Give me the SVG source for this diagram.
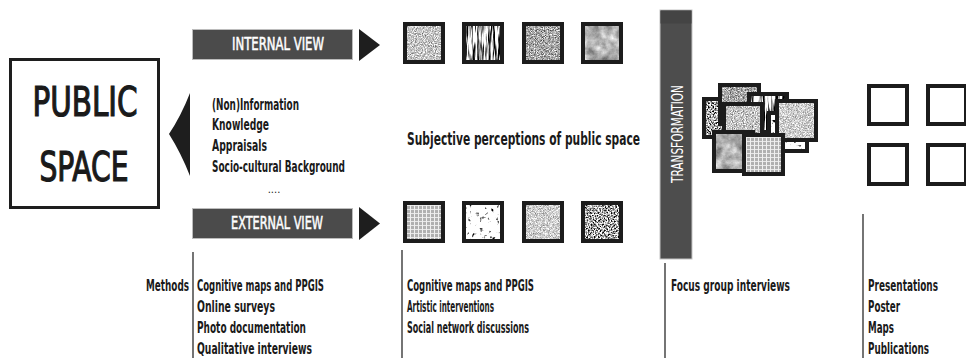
<svg xmlns="http://www.w3.org/2000/svg" width="966" height="358" viewBox="0 0 966 358">
  <style>
    text { font-family: "Liberation Sans Narrow", "DejaVu Sans Condensed", "Liberation Sans", sans-serif; fill: #1a1a1a; }
    .big { font-size: 40px; stroke: #1a1a1a; stroke-width: 1.2; }
    .lbl { font-size: 15px; font-weight: bold; }
    .bar-txt { font-size: 17px; fill: #ffffff; stroke: #ffffff; stroke-width: 0.5; }
    .bar { fill: #4b4b4b; stroke: #bcbcbc; stroke-width: 1; }
    .head { fill: #1e1e1e; }
    .frame { fill: none; stroke: #1c1c1c; stroke-width: 4; }
    .out { fill: #ffffff; stroke: #1c1c1c; stroke-width: 4; }
    .tex { fill: #999999; }
    .rule { stroke: #2a2a2a; stroke-width: 1.3; }
  </style>
  <defs>
    <!-- fine light gravel -->
    <filter id="tx-gravel" x="0" y="0" width="1" height="1" color-interpolation-filters="sRGB">
      <feTurbulence type="fractalNoise" baseFrequency="0.9" numOctaves="2" seed="3"/>
      <feColorMatrix type="matrix" values="1.1 0 0 0 0.22  1.1 0 0 0 0.22  1.1 0 0 0 0.22  0 0 0 0 1"/>
    </filter>
    <!-- vertical bark streaks -->
    <filter id="tx-bark" x="0" y="0" width="1" height="1" color-interpolation-filters="sRGB">
      <feTurbulence type="fractalNoise" baseFrequency="0.45 0.035" numOctaves="3" seed="7"/>
      <feColorMatrix type="matrix" values="4.5 0 0 0 -1.6  4.5 0 0 0 -1.6  4.5 0 0 0 -1.6  0 0 0 0 1"/>
    </filter>
    <!-- mid grey stone grain -->
    <filter id="tx-stone" x="0" y="0" width="1" height="1" color-interpolation-filters="sRGB">
      <feTurbulence type="fractalNoise" baseFrequency="0.85" numOctaves="2" seed="11"/>
      <feColorMatrix type="matrix" values="1.3 0 0 0 0.0  1.3 0 0 0 0.0  1.3 0 0 0 0.0  0 0 0 0 1"/>
    </filter>
    <!-- soft cloudy concrete -->
    <filter id="tx-cloud" x="0" y="0" width="1" height="1" color-interpolation-filters="sRGB">
      <feTurbulence type="fractalNoise" baseFrequency="0.09" numOctaves="6" seed="5"/>
      <feColorMatrix type="matrix" values="0.8 0 0 0 0.3  0.8 0 0 0 0.3  0.8 0 0 0 0.3  0 0 0 0 1"/>
    </filter>
    <!-- white ground with dark blots -->
    <filter id="tx-blots" x="0" y="0" width="1" height="1" color-interpolation-filters="sRGB">
      <feTurbulence type="fractalNoise" baseFrequency="0.25" numOctaves="3" seed="9"/>
      <feColorMatrix type="matrix" values="5 0 0 0 -0.9  5 0 0 0 -0.9  5 0 0 0 -0.9  0 0 0 0 1"/>
    </filter>
    <!-- very fine light grain -->
    <filter id="tx-fine" x="0" y="0" width="1" height="1" color-interpolation-filters="sRGB">
      <feTurbulence type="fractalNoise" baseFrequency="1.4" numOctaves="1" seed="2"/>
      <feColorMatrix type="matrix" values="1.0 0 0 0 0.3  1.0 0 0 0 0.3  1.0 0 0 0 0.3  0 0 0 0 1"/>
    </filter>
    <!-- dark high-contrast speckle -->
    <filter id="tx-dark" x="0" y="0" width="1" height="1" color-interpolation-filters="sRGB">
      <feTurbulence type="fractalNoise" baseFrequency="0.7" numOctaves="2" seed="4"/>
      <feColorMatrix type="matrix" values="3.5 0 0 0 -1.2  3.5 0 0 0 -1.2  3.5 0 0 0 -1.2  0 0 0 0 1"/>
    </filter>
    <!-- woven grid -->
    <pattern id="weave" width="4" height="4" patternUnits="userSpaceOnUse">
      <rect width="4" height="4" fill="#b0b0b0"/>
      <rect x="0" y="1" width="4" height="1" fill="#e8e8e8"/>
      <rect x="2" y="0" width="1" height="4" fill="#f0f0f0"/>
    </pattern>
    <pattern id="check" width="4" height="4" patternUnits="userSpaceOnUse">
      <rect x="0" y="0" width="2" height="2" fill="#ffffff" opacity="0.4"/>
      <rect x="2" y="2" width="2" height="2" fill="#ffffff" opacity="0.4"/>
    </pattern>
  </defs>

  <!-- arrows -->
  <g id="connectors">
    <path class="head" d="M190,93 Q181,116 169,134 Q181,153 190,176 Z"/>
    <polygon class="head" points="359,29 380,45 359,61"/>
    <polygon class="head" points="359,207 380,223.5 359,240"/>
  </g>

  <!-- column dividers -->
  <g id="dividers">
    <line class="rule" x1="193" y1="252" x2="193" y2="358"/>
    <line class="rule" x1="402" y1="250" x2="402" y2="358"/>
    <line class="rule" x1="665" y1="263" x2="665" y2="358"/>
    <line class="rule" x1="863" y1="214" x2="863" y2="358"/>
  </g>

  <g id="public-space">
    <rect x="10.5" y="59.5" width="148" height="148" fill="#ffffff" stroke="#1e1e1e" stroke-width="3"/>
    <text class="big" transform="translate(85,116) scale(0.65,1)" text-anchor="middle" textLength="161.5" lengthAdjust="spacingAndGlyphs">PUBLIC</text>
    <text class="big" transform="translate(84,181) scale(0.65,1)" text-anchor="middle" textLength="137" lengthAdjust="spacingAndGlyphs">SPACE</text>
  </g>

  <g id="internal-view">
    <rect class="bar" x="192.5" y="29.5" width="160" height="30"/>
    <text class="bar-txt" transform="translate(278,50) scale(0.65,1)" text-anchor="middle" textLength="141.5" lengthAdjust="spacingAndGlyphs">INTERNAL VIEW</text>
  </g>

  <g id="external-view">
    <rect class="bar" x="192.5" y="208.5" width="160" height="30"/>
    <text class="bar-txt" transform="translate(277,229) scale(0.65,1)" text-anchor="middle" textLength="141.5" lengthAdjust="spacingAndGlyphs">EXTERNAL VIEW</text>
  </g>

  <g id="factors">
    <text class="lbl" transform="translate(212,110) scale(0.65,1)" textLength="133.8" lengthAdjust="spacingAndGlyphs">(Non)Information</text>
    <text class="lbl" transform="translate(212,130) scale(0.65,1)" textLength="87.7" lengthAdjust="spacingAndGlyphs">Knowledge</text>
    <text class="lbl" transform="translate(212,151) scale(0.65,1)" textLength="84.6" lengthAdjust="spacingAndGlyphs">Appraisals</text>
    <text class="lbl" transform="translate(212,172) scale(0.65,1)" textLength="204.6" lengthAdjust="spacingAndGlyphs">Socio-cultural Background</text>
    <text x="274" y="193" text-anchor="middle" style="font-size:11px">....</text>
  </g>

  <g id="internal-samples">
    <rect class="tex" x="403" y="22" width="42" height="42" filter="url(#tx-gravel)"/>
    <rect class="frame" x="405" y="24" width="38" height="38"/>
    <rect class="tex" x="462" y="22" width="42" height="42" filter="url(#tx-bark)"/>
    <rect class="frame" x="464" y="24" width="38" height="38"/>
    <rect class="tex" x="522" y="22" width="42" height="42" filter="url(#tx-stone)"/>
    <rect class="frame" x="524" y="24" width="38" height="38"/>
    <rect class="tex" x="581" y="22" width="42" height="42" filter="url(#tx-cloud)"/>
    <rect class="frame" x="583" y="24" width="38" height="38"/>
  </g>

  <g id="perceptions">
    <text transform="translate(407,145) scale(0.65,1)" style="font-size:17px;font-weight:bold" textLength="358.5" lengthAdjust="spacingAndGlyphs">Subjective perceptions of public space</text>
  </g>

  <g id="external-samples">
    <rect x="403" y="201" width="42" height="42" fill="url(#weave)"/>
    <rect class="frame" x="405" y="203" width="38" height="38"/>
    <rect class="tex" x="462" y="201" width="42" height="42" filter="url(#tx-blots)"/>
    <rect class="frame" x="464" y="203" width="38" height="38"/>
    <rect class="tex" x="522" y="201" width="42" height="42" filter="url(#tx-fine)"/>
    <rect class="frame" x="524" y="203" width="38" height="38"/>
    <rect class="tex" x="581" y="201" width="42" height="42" filter="url(#tx-dark)"/>
    <rect x="581" y="201" width="42" height="42" fill="url(#check)"/>
    <rect class="frame" x="583" y="203" width="38" height="38"/>
  </g>

  <g id="transformation">
    <rect x="660" y="10" width="32" height="249" fill="#4d4d4d" stroke="#c4c4c4" stroke-width="1"/>
    <rect x="660.5" y="10.5" width="31" height="13" fill="#444444"/>
    <text transform="translate(683,134) rotate(-90) scale(0.65,1)" text-anchor="middle" style="font-size:16px;fill:#ffffff" textLength="150.8" lengthAdjust="spacingAndGlyphs">TRANSFORMATION</text>
  </g>

  <g id="collage">
    <rect class="tex" x="702" y="97" width="42" height="42" filter="url(#tx-dark)"/>
    <rect x="702" y="97" width="42" height="42" fill="url(#check)"/>
    <rect class="frame" x="704" y="99" width="38" height="38"/>
    <rect class="tex" x="718" y="83" width="43" height="43" filter="url(#tx-stone)"/>
    <rect class="frame" x="720" y="85" width="39" height="39"/>
    <rect class="tex" x="747" y="92" width="42" height="42" filter="url(#tx-bark)"/>
    <rect class="frame" x="749" y="94" width="38" height="38"/>
    <rect class="tex" x="767" y="111" width="42" height="42" filter="url(#tx-blots)"/>
    <rect class="frame" x="769" y="113" width="38" height="38"/>
    <rect class="tex" x="722" y="102" width="42" height="42" filter="url(#tx-gravel)"/>
    <rect class="frame" x="724" y="104" width="38" height="38"/>
    <rect class="tex" x="775" y="99" width="43" height="43" filter="url(#tx-fine)"/>
    <rect class="frame" x="777" y="101" width="39" height="39"/>
    <rect class="tex" x="712" y="130" width="43" height="43" filter="url(#tx-cloud)"/>
    <rect class="frame" x="714" y="132" width="39" height="39"/>
    <rect x="742" y="133" width="43" height="43" fill="url(#weave)"/>
    <rect class="frame" x="744" y="135" width="39" height="39"/>
  </g>

  <g id="outputs">
    <rect class="out" x="869" y="86" width="38" height="38"/>
    <rect class="out" x="928" y="86" width="38" height="38"/>
    <rect class="out" x="869" y="145" width="38" height="39"/>
    <rect class="out" x="928" y="145" width="38" height="39"/>
  </g>

  <g id="methods">
    <text class="lbl" transform="translate(189,291) scale(0.65,1)" text-anchor="end" textLength="66.2" lengthAdjust="spacingAndGlyphs">Methods</text>
    <text class="lbl" transform="translate(197,291) scale(0.65,1)" textLength="195.4" lengthAdjust="spacingAndGlyphs">Cognitive maps and PPGIS</text>
    <text class="lbl" transform="translate(197,312) scale(0.65,1)" textLength="120" lengthAdjust="spacingAndGlyphs">Online surveys</text>
    <text class="lbl" transform="translate(197,333) scale(0.65,1)" textLength="167.7" lengthAdjust="spacingAndGlyphs">Photo documentation</text>
    <text class="lbl" transform="translate(197,354) scale(0.65,1)" textLength="176.9" lengthAdjust="spacingAndGlyphs">Qualitative interviews</text>
  </g>

  <g id="participatory-methods">
    <text class="lbl" transform="translate(407,291) scale(0.65,1)" textLength="195.4" lengthAdjust="spacingAndGlyphs">Cognitive maps and PPGIS</text>
    <text class="lbl" transform="translate(407,312) scale(0.65,1)" textLength="133.8" lengthAdjust="spacingAndGlyphs">Artistic interventions</text>
    <text class="lbl" transform="translate(407,333) scale(0.65,1)" textLength="187.7" lengthAdjust="spacingAndGlyphs">Social network discussions</text>
  </g>

  <g id="focus-groups">
    <text class="lbl" transform="translate(671,291) scale(0.65,1)" textLength="183.1" lengthAdjust="spacingAndGlyphs">Focus group interviews</text>
  </g>

  <g id="dissemination">
    <text class="lbl" transform="translate(868,291) scale(0.65,1)" textLength="107.7" lengthAdjust="spacingAndGlyphs">Presentations</text>
    <text class="lbl" transform="translate(868,312) scale(0.65,1)" textLength="49.2" lengthAdjust="spacingAndGlyphs">Poster</text>
    <text class="lbl" transform="translate(868,333) scale(0.65,1)" textLength="40" lengthAdjust="spacingAndGlyphs">Maps</text>
    <text class="lbl" transform="translate(868,354) scale(0.65,1)" textLength="93.8" lengthAdjust="spacingAndGlyphs">Publications</text>
  </g>
</svg>
